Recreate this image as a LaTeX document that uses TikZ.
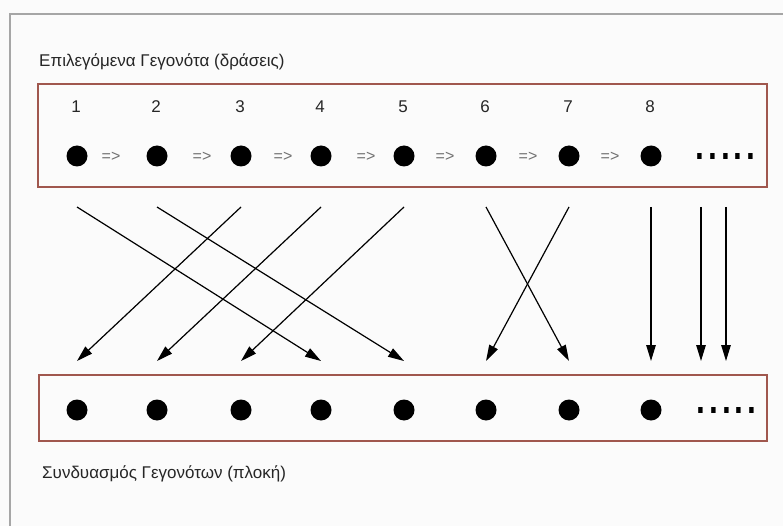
\documentclass[tikz,border=0pt]{standalone}
\usepackage{fontspec}
\setmainfont{Liberation Sans}
\usetikzlibrary{arrows.meta}
\definecolor{paper}{HTML}{FBFBFB}
\definecolor{framegray}{HTML}{A6A6A6}
\definecolor{boxred}{HTML}{A0574E}
\definecolor{seqgray}{HTML}{707070}
\tikzset{
  dot/.style={circle,fill=black,inner sep=0pt,minimum size=21pt},
  numlabel/.style={font=\fontsize{17}{20}\selectfont,anchor=base,text=black!85},
  seqsign/.style={font=\fontsize{16}{18}\selectfont,text=seqgray,inner sep=0pt},
  caption/.style={font=\fontsize{17}{20}\selectfont,anchor=base west,inner sep=0pt,text=black!85},
  eventbox/.style={draw=boxred,line width=1.3pt,inner sep=0pt},
  more/.style={inner sep=0pt},
  link/.style={line width=1.2pt,-{Triangle[length=16pt,width=9.5pt]}},
}
\newcommand{\moredots}{\resizebox{64pt}{6pt}{.....}}
\begin{document}
\begin{tikzpicture}[x=1pt,y=-1pt]
  % page and outer frame
  \fill[paper] (0,0) rectangle (783,526);
  \useasboundingbox (0,0) rectangle (783,526);
  \draw[framegray,line width=2pt] (10,526) -- (10,14) -- (783,14);

  % boxes
  \node[eventbox,minimum width=729pt,minimum height=103pt] (topbox) at (402.5,135.5) {};
  \node[eventbox,minimum width=728pt,minimum height=66pt] (botbox) at (403,408) {};

  % captions
  \node[caption] (toptitle) at (39,67) {Επιλεγόμενα Γεγονότα (δράσεις)};
  \node[caption] (bottitle) at (42,478) {Συνδυασμός Γεγονότων (πλοκή)};

  % event columns
  \foreach \i/\x in {1/77,2/157,3/241,4/321,5/404,6/486,7/569,8/651} {
    \node[numlabel] (n\i) at (\x-1,112.5) {\i};
    \node[dot] (t\i) at (\x,156) {};
    \node[dot] (b\i) at (\x,410) {};
    \coordinate (s\i) at (\x,207);
    \coordinate (e\i) at (\x,361);
  }
  \coordinate (s9) at (701,207);  \coordinate (e9) at (701,361);
  \coordinate (s10) at (726,207); \coordinate (e10) at (726,361);

  % sequence signs between the selected events
  \foreach \x [count=\k] in {111,202,283,366,445,528,610} {
    \node[seqsign] (q\k) at (\x,157) {=>};
  }

  % continuation marks
  \node[more] (tmore) at (725.5,157) {\moredots};
  \node[more] (bmore) at (726.5,410) {\moredots};

  % reordering of the events
  \foreach \a/\b in {1/4,2/5,3/1,4/2,5/3,6/7,7/6,8/8,9/9,10/10} {
    \draw[link] (s\a) -- (e\b);
  }
\end{tikzpicture}
\end{document}
